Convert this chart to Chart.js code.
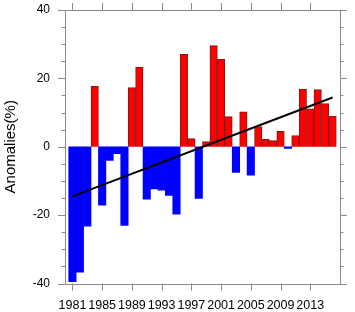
<!DOCTYPE html>
<html>
<head>
<meta charset="utf-8">
<script src="https://cdn.jsdelivr.net/npm/chart.js@4"></script>
<style>
  body { margin: 0; background: #fff; }
  #wrap { width: 355px; height: 312px; }
</style>
</head>
<body>
<div id="wrap"><canvas id="anom" width="355" height="312"></canvas></div>
<script>
// yearly anomalies
const years = [1981, 1982, 1983, 1984, 1985, 1986, 1987, 1988, 1989, 1990,
               1991, 1992, 1993, 1994, 1995, 1996, 1997, 1998, 1999, 2000,
               2001, 2002, 2003, 2004, 2005, 2006, 2007, 2008, 2009, 2010,
               2011, 2012, 2013, 2014, 2015, 2016];
const anomalies = [-39.5, -36.7, -23.2, 17.7, -17.1, -4.0, -2.0, -23.0, 17.3, 23.3,
                   -15.3, -12.3, -12.7, -14.2, -19.7, 27.0, 2.4, -15.1, 1.5, 29.6,
                   25.6, 8.8, -7.5, 10.2, -8.3, 5.9, 2.2, 1.8, 4.5, -0.5,
                   3.3, 16.9, 11.1, 16.7, 12.6, 9.0];

// linear trend, end points
const trendYears = [1981, 2016];
const trendValues = [-14.5, 14.4];

const xTickYears = [1981, 1985, 1989, 1993, 1997, 2001, 2005, 2009, 2013];
const yMajor = [-40, -20, 0, 20, 40];

const axisGray = '#8a8a8a';

Chart.defaults.font.family = '"Liberation Sans", Arial, sans-serif';
Chart.defaults.color = '#000';

// box around the plot and NCL style outward ticks
const frame = {
    id: 'frame',
    afterDatasetsDraw(chart) {
        const {ctx, chartArea: a, scales} = chart;
        const x = scales.x, y = scales.y;
        ctx.save();
        ctx.strokeStyle = axisGray;
        ctx.lineWidth = 1;
        ctx.beginPath();
        ctx.rect(Math.round(a.left) + 0.5, Math.round(a.top) + 0.5,
                 Math.round(a.right - a.left), Math.round(a.bottom - a.top));
        xTickYears.forEach(v => {
            const px = Math.round(x.getPixelForValue(v)) + 0.5;
            ctx.moveTo(px, a.bottom); ctx.lineTo(px, a.bottom + 7);
            ctx.moveTo(px, a.top); ctx.lineTo(px, a.top - 7);
        });
        for (let v = y.min; v <= y.max; v += 5) {
            const py = Math.round(y.getPixelForValue(v)) + 0.5;
            const len = yMajor.includes(v) ? 7 : 3.5;
            ctx.moveTo(a.left, py); ctx.lineTo(a.left - len, py);
            ctx.moveTo(a.right, py); ctx.lineTo(a.right + len, py);
        }
        ctx.stroke();
        ctx.restore();
    }
};

new Chart(document.getElementById('anom'), {
    type: 'bar',
    data: {
        datasets: [
            {
                type: 'line',
                label: 'trend',
                data: trendYears.map((yr, i) => ({x: yr, y: trendValues[i]})),
                borderColor: '#000',
                borderWidth: 2,
                pointRadius: 0,
                order: 0
            },
            {
                label: 'anomaly',
                data: years.map((yr, i) => ({x: yr, y: anomalies[i]})),
                backgroundColor: anomalies.map(v => v >= 0 ? '#ff0000' : '#0000ff'),
                borderColor: anomalies.map(v => v >= 0 ? '#7a1a1a' : '#0000ee'),
                borderWidth: anomalies.map(v => v >= 0 ? 1 : 0),
                barPercentage: 1,
                categoryPercentage: 1,
                order: 1
            }
        ]
    },
    options: {
        responsive: false,
        animation: false,
        layout: { padding: { top: 10, right: 15, left: 0, bottom: 0 } },
        plugins: { legend: { display: false }, tooltip: { enabled: false } },
        scales: {
            x: {
                type: 'linear',
                offset: false,
                min: 1980,
                max: 2017,
                grid: { display: false, drawTicks: false },
                border: { display: false },
                afterBuildTicks: (s) => { s.ticks = xTickYears.map(v => ({value: v})); },
                afterFit: (s) => { s.height = 28.5; s.paddingLeft = 0; s.paddingRight = 0; },
                ticks: {
                    autoSkip: false,
                    maxRotation: 0,
                    padding: 15,
                    font: { size: 12.5 },
                    callback: (v) => String(v)
                }
            },
            y: {
                min: -40,
                max: 40,
                grid: { display: false, drawTicks: false },
                border: { display: false },
                afterBuildTicks: (s) => { s.ticks = yMajor.map(v => ({value: v})); },
                afterFit: (s) => { s.width = 65; s.paddingTop = 0; s.paddingBottom = 0; },
                ticks: {
                    padding: 15,
                    font: { size: 12 }
                },
                title: {
                    display: true,
                    text: 'Anomalies(%)',
                    font: { size: 15 },
                    padding: { top: 2, bottom: 0 }
                }
            }
        }
    },
    plugins: [frame]
});
</script>
</body>
</html>
